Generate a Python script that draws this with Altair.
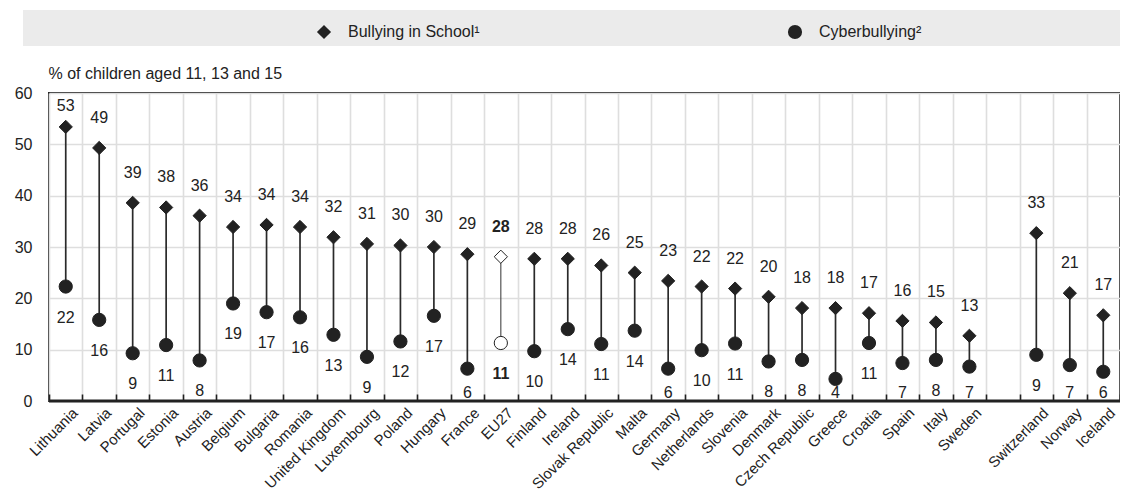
import altair as alt
import pandas as pd

countries = ["Lithuania", "Latvia", "Portugal", "Estonia", "Austria", "Belgium", "Bulgaria",
             "Romania", "United Kingdom", "Luxembourg", "Poland", "Hungary", "France", "EU27",
             "Finland", "Ireland", "Slovak Republic", "Malta", "Germany", "Netherlands",
             "Slovenia", "Denmark", "Czech Republic", "Greece", "Croatia", "Spain", "Italy",
             "Sweden", "Switzerland", "Norway", "Iceland"]
bullying = [53.4, 49.3, 38.6, 37.7, 36.1, 33.9, 34.3, 33.9, 31.9, 30.6, 30.3, 30.0, 28.6, 28.1,
            27.7, 27.7, 26.4, 25.0, 23.4, 22.3, 21.9, 20.3, 18.1, 18.1, 17.1, 15.6, 15.3,
            12.7, 32.7, 21.0, 16.7]
cyber = [22.3, 15.8, 9.3, 10.9, 7.9, 19.0, 17.3, 16.3, 12.9, 8.6, 11.6, 16.6, 6.3, 11.3,
         9.7, 14.0, 11.1, 13.7, 6.3, 9.9, 11.2, 7.7, 8.0, 4.3, 11.3, 7.4, 8.0,
         6.7, 9.0, 7.0, 5.7]
gap = " "
x_order = countries[:28] + [gap] + countries[28:]
series_names = ["Bullying in School¹", "Cyberbullying²"]

INK = "#222222"
FONT = "Liberation Sans"
W, H = 1071, 308

df = pd.DataFrame({"country": countries, "bully": bullying, "cyber": cyber})
base = alt.Chart(df)

x_enc = alt.X("country:N", sort=x_order,
              scale=alt.Scale(domain=x_order, paddingInner=0, paddingOuter=0),
              axis=alt.Axis(title=None, labelAngle=-45, labelFontSize=15, labelColor=INK,
                            labelOverlap=False, labelLimit=300, labelPadding=4, labelOffset=4,
                            tickBand="extent", ticks=True, tickSize=7, tickColor=INK,
                            tickWidth=1.6, offset=-7, domain=False,
                            grid=True, gridColor="#dedede", gridWidth=1.6))
y_scale = alt.Scale(domain=[0, 60], nice=False, zero=True)
y_axis = alt.Axis(title="% of children aged 11, 13 and 15", titleAngle=0, titleAlign="left",
                  titleBaseline="alphabetic", titleX=-1, titleY=-15, titleFontSize=16,
                  titleFontWeight="normal", titleColor=INK, values=[0, 10, 20, 30, 40, 50, 60],
                  labelFontSize=16, labelColor=INK, labelPadding=17, ticks=False, tickSize=0,
                  domain=False, grid=True, gridColor="#dedede", gridWidth=1.6)

legend_band = alt.Chart(pd.DataFrame({"band": [0]})).mark_rect(color="#ebebeb").encode(
    x=alt.value(-26), x2=alt.value(W), y=alt.value(-83), y2=alt.value(-47))

is_eu = "datum.country === 'EU27'"
not_eu = "datum.country !== 'EU27'"

rules = base.transform_filter(not_eu).mark_rule(color="#2a2a2a", strokeWidth=1.7).encode(
    x=x_enc, y=alt.Y("bully:Q", scale=y_scale, axis=y_axis), y2="cyber:Q")
rule_eu = base.transform_filter(is_eu).mark_rule(color="#444444", strokeWidth=1.1).encode(
    x=alt.X("country:N", sort=x_order), y=alt.Y("bully:Q"), y2="cyber:Q")

baseline = alt.Chart(pd.DataFrame({"zero": [0]})).mark_rule(color=INK, strokeWidth=3).encode(
    y=alt.Y("zero:Q"))

points = base.transform_fold(["bully", "cyber"], as_=["key", "value"]).transform_calculate(
    series="datum.key === 'bully' ? '" + series_names[0] + "' : '" + series_names[1] + "'"
).mark_point(filled=True, stroke=INK, strokeWidth=1, opacity=1, size=175).encode(
    x=alt.X("country:N", sort=x_order),
    y=alt.Y("value:Q"),
    shape=alt.Shape("series:N", scale=alt.Scale(domain=series_names, range=["diamond", "circle"]),
                    legend=alt.Legend(title=None, orient="none", legendX=267, legendY=-69,
                                      direction="horizontal", columnPadding=307,
                                      labelFontSize=16, labelColor=INK, labelOffset=16,
                                      symbolSize=200, symbolFillColor=INK,
                                      symbolStrokeColor=INK, symbolStrokeWidth=0,
                                      padding=0, zindex=2)),
    fill=alt.condition(is_eu, alt.value("white"), alt.value(INK)),
)

def labels(filter_expr, field, calc, dy, weight):
    return base.transform_filter(filter_expr).transform_calculate(ly=calc).mark_text(
        dy=dy, fontSize=16, color=INK, font=FONT, fontWeight=weight, baseline="middle"
    ).encode(x=alt.X("country:N", sort=x_order), y=alt.Y("ly:Q"),
             text=alt.Text(field + ":Q", format=".0f"))

bully_lab = labels(not_eu, "bully", "min(datum.bully, 51.7)", -30, "normal")
cyber_lab = labels(not_eu, "cyber", "max(datum.cyber, 7.6)", 31, "normal")
bully_lab_eu = labels(is_eu, "bully", "min(datum.bully, 51.7)", -30, "bold")
cyber_lab_eu = labels(is_eu, "cyber", "max(datum.cyber, 7.6)", 31, "bold")

chart = alt.layer(legend_band, rules, rule_eu, baseline, points, bully_lab, cyber_lab,
                  bully_lab_eu, cyber_lab_eu).properties(
    width=W, height=H,
    autosize=alt.AutoSizeParams(type="none"),
    padding={"left": 41, "top": 85, "right": 0, "bottom": 91},
).configure(font=FONT).configure_view(stroke=INK, strokeWidth=2)

chart.save("out.html", embed_options={"renderer": "svg", "actions": False})
